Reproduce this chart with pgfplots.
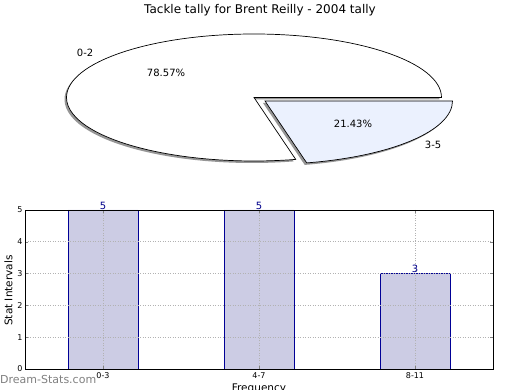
\documentclass[border=0pt]{standalone}
\usepackage{pgfplots}
\pgfplotsset{compat=1.18}
\usepackage{fontspec}
\setmainfont{DejaVu Sans}
\definecolor{barfill}{RGB}{204,204,228}
\definecolor{baredge}{RGB}{0,0,150}
\definecolor{valtext}{RGB}{0,0,139}
\definecolor{slicetwo}{RGB}{235,241,254}
\definecolor{shadowc}{RGB}{150,150,150}
\begin{document}
\begin{tikzpicture}[x=1pt,y=1pt]
\useasboundingbox (0,0) rectangle (520,390);
\node[font=\fontsize{12}{14}\selectfont] at (260,380) {Tackle tally for Brent Reilly - 2004 tally};
% pie data (percent)
\def\pA{78.57}\def\pB{21.43}
\pgfmathsetmacro\angA{3.6*\pA}
\begin{axis}[at={(254pt,292.5pt)}, anchor=center, scale only axis,
  width=375pt, height=127pt, xmin=-1, xmax=1, ymin=-1, ymax=1,
  hide axis, clip=false]
  % slice 0-2
  \fill[shadowc, shift={(-2pt,-2pt)}] (axis cs:0,0) -- ++(0:187.5pt and 63.5pt)
     arc[start angle=0, end angle=\angA, x radius=187.5pt, y radius=63.5pt] -- cycle;
  \filldraw[fill=white, draw=black, line width=0.7pt] (axis cs:0,0) -- ++(0:187.5pt and 63.5pt)
     arc[start angle=0, end angle=\angA, x radius=187.5pt, y radius=63.5pt] -- cycle;
  % slice 3-5 (exploded)
  \fill[shadowc, shift={(9pt,-5.5pt)}] (axis cs:0,0) -- ++(\angA:187.5pt and 63.5pt)
     arc[start angle=\angA, end angle=360, x radius=187.5pt, y radius=63.5pt] -- cycle;
  \filldraw[fill=slicetwo, draw=black, line width=0.7pt, shift={(11pt,-3.5pt)}] (axis cs:0,0) -- ++(\angA:187.5pt and 63.5pt)
     arc[start angle=\angA, end angle=360, x radius=187.5pt, y radius=63.5pt] -- cycle;
  \node[font=\fontsize{10}{12}\selectfont] at (axis cs:-0.901,0.701) {0-2};
  \node[font=\fontsize{10}{12}\selectfont] at (axis cs:-0.469,0.386) {\pA\%};
  \node[font=\fontsize{10}{12}\selectfont] at (axis cs:0.528,-0.417) {\pB\%};
  \node[font=\fontsize{10}{12}\selectfont] at (axis cs:0.955,-0.748) {3-5};
\end{axis}
% bar chart
\begin{axis}[at={(25pt,21pt)}, anchor=south west, scale only axis,
  width=468pt, height=159pt,
  xmin=-0.5, xmax=2.5, ymin=0, ymax=5,
  xtick={0,1,2}, xticklabels={0-3,4-7,8-11},
  ytick={0,1,2,3,4,5},
  /pgf/number format/assume math mode=true,
  tick label style={font=\fontsize{8}{9}\selectfont},
  yticklabel style={xshift=1pt},
  tick align=inside, major tick length=3pt,
  grid=major,
  major grid style={gray!60, line width=0.6pt, dash pattern=on 1pt off 1.5pt},
  axis on top,
  axis line style={line width=0.8pt},
  clip=false]
  \addplot[ybar, bar width=70pt, fill=barfill, draw=baredge, line width=0.7pt,
    nodes near coords,
    nodes near coords style={font=\fontsize{10}{12}\selectfont, text=valtext, anchor=south, inner sep=0.5pt},
    ] coordinates {(0,5) (1,5) (2,3)};
\end{axis}
\node[rotate=90, font=\fontsize{10.5}{12}\selectfont] at (8.5,99.5) {Stat Intervals};
\node[font=\fontsize{10.5}{12}\selectfont, anchor=north, inner sep=0pt] at (259,6) {Frequency};
\node[font=\fontsize{11}{13}\selectfont, text=gray, anchor=west, inner sep=0pt] at (0,10) {Dream-Stats.com};
\end{tikzpicture}
\end{document}
